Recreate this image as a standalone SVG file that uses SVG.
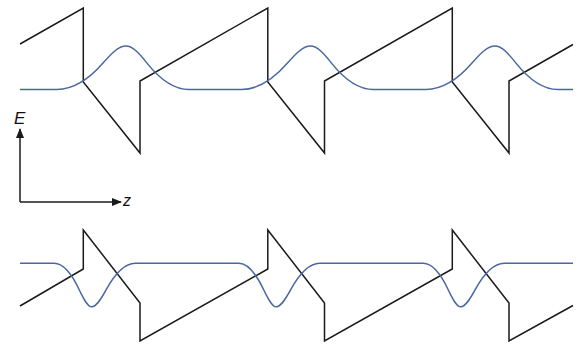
<svg xmlns="http://www.w3.org/2000/svg" width="581" height="346" viewBox="0 0 581 346">
<style>
.blk{fill:none;stroke:#1a1a1a;stroke-width:1.5;stroke-linejoin:miter}
.blu{fill:none;stroke:#4a67a1;stroke-width:1.5}
.ax{fill:none;stroke:#1a1a1a;stroke-width:1.5}
.lbl{font-family:"Liberation Sans","Open Sans",sans-serif;font-style:italic;fill:#111}
</style>
<defs>
<marker id="ah" viewBox="0 0 10 8" refX="9" refY="4" markerWidth="10" markerHeight="8" markerUnits="userSpaceOnUse" orient="auto">
<path d="M0,0 L10,4 L0,8 Z" fill="#1a1a1a"/>
</marker>
</defs>
<g id="top">
<path class="blk" d="M20,44 L83.3,8 L83.3,82 L140,153 L140,81 L267.8,8 L267.8,82 L324.5,153 L324.5,81 L452.3,8 L452.3,82 L509,153 L509,81 L573,44.5"/>
<path class="blu" d="M20,89.5 L57,89.5 C72.3,89.5 87.7,80.7 103,63.1 C110.7,54.3 118.3,46 126,46 C133,46 140,54.3 147,63.1 C161,80.7 175,89.5 189,89.5 L241.5,89.5 C256.8,89.5 272.2,80.7 287.5,63.1 C295.2,54.3 302.8,46 310.5,46 C317.5,46 324.5,54.3 331.5,63.1 C345.5,80.7 359.5,89.5 373.5,89.5 L426,89.5 C441.3,89.5 456.7,80.7 472,63.1 C479.7,54.3 487.3,46 495,46 C502,46 509,54.3 516,63.1 C530,80.7 544,89.5 558,89.5 L573,89.5"/>
</g>
<g id="axes">
<path class="ax" d="M20,202 L20,129" marker-end="url(#ah)"/>
<path class="ax" d="M20,202 L121,202" marker-end="url(#ah)"/>
<text class="lbl" x="14" y="124" font-size="17">E</text>
<text class="lbl" x="123" y="206" font-size="16">z</text>
</g>
<g id="bottom">
<path class="blk" d="M20,306 L83.3,269 L83.3,230 L140,303 L140,341 L267.8,269 L267.8,230 L324.5,303 L324.5,341 L452.3,269 L452.3,230 L509,303 L509,341 L573,305.5"/>
<path class="blu" d="M20,263.3 L54.2,263.3 C62.5,263.3 70.9,272.1 79.2,289.7 C83.4,298.5 87.5,306.8 91.7,306.8 C96.5,306.8 101.4,298.5 106.2,289.7 C115.9,272.1 125.5,263.3 135.2,263.3 L238.7,263.3 C247,263.3 255.4,272.1 263.7,289.7 C267.9,298.5 272,306.8 276.2,306.8 C281,306.8 285.9,298.5 290.7,289.7 C300.4,272.1 310,263.3 319.7,263.3 L423.2,263.3 C431.5,263.3 439.9,272.1 448.2,289.7 C452.4,298.5 456.5,306.8 460.7,306.8 C465.5,306.8 470.4,298.5 475.2,289.7 C484.9,272.1 494.5,263.3 504.2,263.3 L573,263.3"/>
</g>
</svg>
